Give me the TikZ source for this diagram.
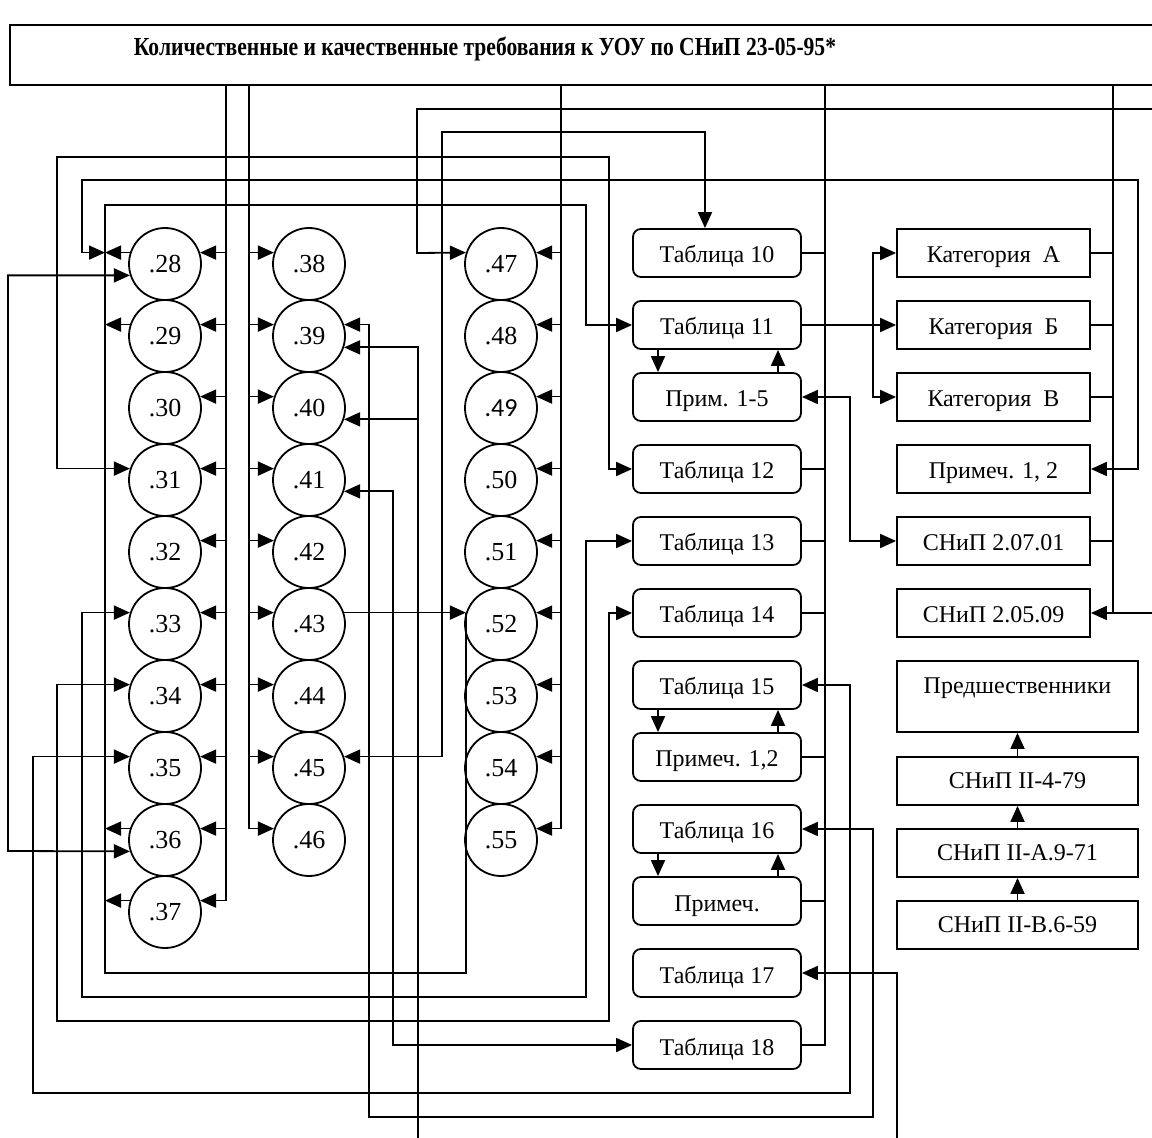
\documentclass[tikz,border=0pt,12pt]{standalone}
\usepackage{fontspec}
\setmainfont{Liberation Serif}
\setsansfont{Carlito}
\newfontfamily\headfont[FakeStretch=0.83]{Liberation Serif}
\usetikzlibrary{arrows.meta,calc,positioning}
\tikzset{%
	circ/.style     = {draw, circle, minimum size = 36pt, inner sep = 0pt, font = \fontsize{13}{15}\selectfont}, % Item
	tabl/.style     = {draw, rectangle, rounded corners = 4pt, minimum width = 84pt, minimum height = 24pt, text height = 10pt, text depth = 0pt}, % Table
	kat/.style      = {draw, rectangle, minimum width = 96.5pt, minimum height = 24pt, text height = 10pt, text depth = 0pt}, % Category
	snip/.style     = {draw, rectangle, minimum width = 120.5pt, minimum height = 24pt}, % Norm
	waypoint/.style = {coordinate}, % Free end
}

\begin{document}
\begin{tikzpicture}[x=0.5pt, y=-0.5pt, line width=0.9pt, node distance=36pt,
		>={Triangle[length=8pt,width=7pt]}]
		\useasboundingbox (0,0) rectangle (1152,1138);
		% head
		\node[draw, minimum width=580pt, minimum height=30pt, inner sep=0pt] (head) at (590,55) {};
		\node[font=\headfont\bfseries\fontsize{13}{15}\selectfont] (headtxt) at (485,49) {Количественные и качественные требования к УОУ по СНиП 23-05-95*};
		% items
		\foreach \n [count=\i from 0] in {28,...,37}
			\node[circ] (c\n) at (165,264+72*\i) {.\n};
		\foreach \n [count=\i from 0] in {38,...,46}
			\node[circ] (c\n) at (309,264+72*\i) {.\n};
		\foreach \n [count=\i from 0] in {47,...,55}
			\node[circ] (c\n) at (501,264+72*\i) {\ifnum\n=49 \sffamily\fi.\n};
		% tables
		\node[tabl] (t10) at (717,253) {Таблица 10};
		\node[tabl, below of=t10] (t11) {Таблица 11};
		\node[tabl, below of=t11] (pr15) {Прим. 1-5};
		\node[tabl, below of=pr15] (t12) {Таблица 12};
		\node[tabl, below of=t12] (t13) {Таблица 13};
		\node[tabl, below of=t13] (t14) {Таблица 14};
		\node[tabl, below of=t14] (t15) {Таблица 15};
		\node[tabl, below of=t15] (pr152) {Примеч. 1,2};
		\node[tabl, below of=pr152] (t16) {Таблица 16};
		\node[tabl, below of=t16] (pr16) {Примеч.};
		\node[tabl, below of=pr16] (t17) {Таблица 17};
		\node[tabl, below of=t17] (t18) {Таблица 18};
		% categories
		\node[kat] (ka) at (993.5,253) {Категория\ \ А};
		\node[kat, below of=ka] (kb) {Категория\ \ Б};
		\node[kat, below of=kb] (kv) {Категория\ \ В};
		\node[kat, below of=kv] (prim12) {Примеч. 1, 2};
		\node[kat, below of=prim12] (s0701) {СНиП 2.07.01};
		\node[kat, below of=s0701] (s0509) {СНиП 2.05.09};
		% predecessors
		\node[snip, minimum height=35.5pt, text depth=11pt] (pred) at (1017.5,696.5) {Предшественники};
		\node[snip] (s479) at (1017.5,781) {СНиП II-4-79};
		\node[snip, below of=s479] (s971) {СНиП II-А.9-71};
		\node[snip, below of=s971] (s659) {СНиП II-В.6-59};
		% waypoints
		\node[waypoint] (b1) at (226,85) {};
		\node[waypoint] (b2) at (249,85) {};
		\node[waypoint] (b3) at (561,85) {};
		\node[waypoint] (b4) at (825,85) {};
		\node[waypoint] (b5) at (1113,85) {};
		\node[waypoint] (lp) at (105,205) {};
		\node[waypoint] (kk) at (873,325) {};
		\node[waypoint] (in1) at (1160,109) {};
		\node[waypoint] (in2) at (1160,613) {};
		\node[waypoint] (in3) at (418,1160) {};
		\node[waypoint] (in4) at (897,1160) {};
		% buses from head
		\draw[->] (b1) |- (c37.18);
		\foreach \n in {28,...,36} \draw[->] (c\n.18 -| b1) -- (c\n.18);
		\draw[->] (b2) |- (c46.162);
		\foreach \n in {38,...,45} \draw[->] (c\n.162 -| b2) -- (c\n.162);
		\draw[->] (b3) |- (c55.18);
		\foreach \n in {47,...,54} \draw[->] (c\n.18 -| b3) -- (c\n.18);
		\draw (b4) |- (t18.east);
		\foreach \t in {t10,t12,t13,t14,pr152,pr16} \draw (\t.east) -- (\t.east -| b4);
		\draw (b5) -- (b5 |- s0509.east);
		\foreach \t in {ka,kb,kv,s0701} \draw (\t.east) -- (\t.east -| b5);
		\draw[->] (in2) -- (s0509.east);
		% tables and notes
		\foreach \a/\b in {t11/pr15, t15/pr152, t16/pr16} {
			\draw[->] ([xshift=-29.5pt]\a.south) -- ([xshift=-29.5pt]\b.north);
			\draw[->] ([xshift=30.5pt]\b.north) -- ([xshift=30.5pt]\a.south);
		}
		\draw[->] (t11) -- (kb);
		\draw[->] (kk) |- (ka.west);
		\draw[->] (kk) |- (kv.west);
		\draw[<->] (pr15.east) -| (850,541) -- (s0701.west);
		\draw[->] (s659) -- (s971);
		\draw[->] (s971) -- (s479);
		\draw[->] (s479) -- (pred);
		% loop round the first column
		\draw[->] (c43.18) -- (c52.162);
		\draw[->] (c52.162) |- (105,973) |- (586,205) |- (t11.west);
		\foreach \n in {28,29,36,37} \draw[->] (c\n.162) -- (c\n.162 -| lp);
		% long links
		\draw[<->] (c28.162 -| lp) -| (82,180) -| (1138,469) -- (prim12.east);
		\draw[<->] (c31.162) -| (57,157) -| (609,469) -- (t12.west);
		\draw[->] (in1) -| (417,253) -- (c47.162);
		\draw[<->] (c45.18) -| (442,132) -| ([xshift=-6pt]t10.north);
		\draw[<->] (c39.18) -| (369,1117) -| (873,829) -- (t16.east);
		\draw[->] (in3) |- (c39.-18);
		\draw[->] (c40.-18 -| in3) -- (c40.-18);
		\draw[<->] (c41.-18) -| (393,1045) -- (t18.west);
		\draw[<->] (c33.162) -| (82,997) -| (586,541) -- (t13.west);
		\draw[<->] (c34.162) -| (57,1021) -| (609,613) -- (t14.west);
		\draw[<->] (c35.162) -| (33,1093) -| (850,685) -- (t15.east);
		\draw[<->] (c28.198) -| (8,851) -- (c36.198);
		\draw[->] (in4) |- (t17.east);
		\end{tikzpicture}
\end{document}
